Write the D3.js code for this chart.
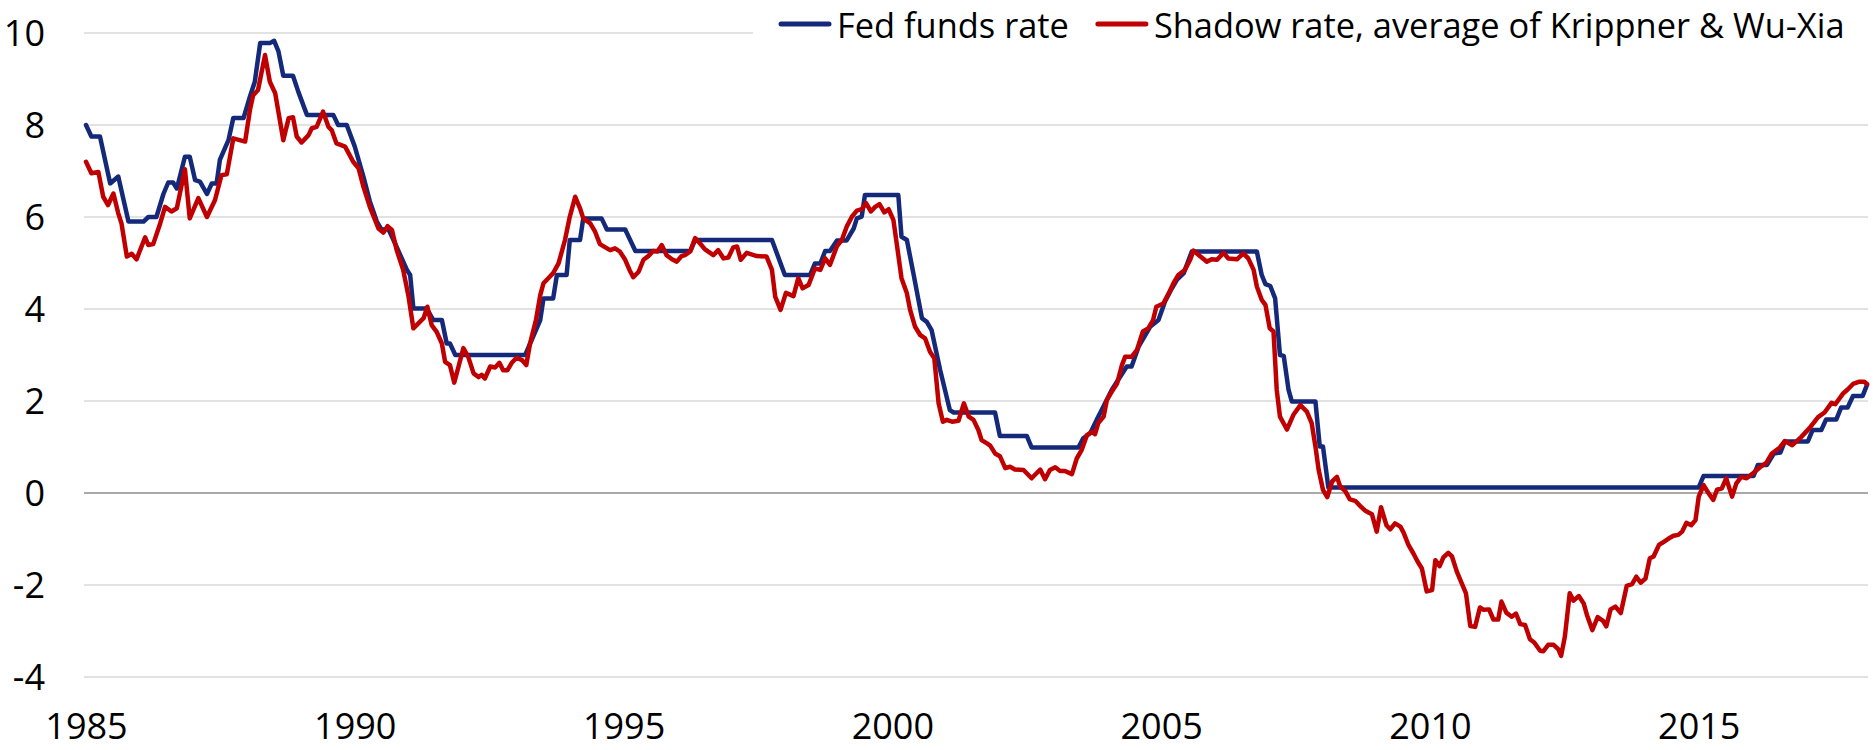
<!DOCTYPE html>
<html>
<head>
<meta charset="utf-8">
<script src="https://cdn.jsdelivr.net/npm/d3@7"></script>
<style>
  html, body { margin: 0; padding: 0; background: #fff; }
  svg { display: block; }
  text { font-family: "Open Sans", "Noto Sans", sans-serif; fill: #000; }
</style>
</head>
<body>
<svg id="chart" width="1873" height="750"></svg>
<script>
// ---- data (decimal years on the chart's own axis, percent) ----
const seriesNames = ["Fed funds rate", "Shadow rate, average of Krippner & Wu-Xia"];
const xTicks = [1985, 1990, 1995, 2000, 2005, 2010, 2015];
const yTicks = [-4, -2, 0, 2, 4, 6, 8, 10];

const fedFunds = [
[1985.00,8.00],[1985.10,7.75],[1985.26,7.75],[1985.45,6.73],[1985.60,6.88],[1985.79,5.90],
[1986.07,5.90],[1986.16,6.00],[1986.31,6.00],[1986.44,6.50],[1986.53,6.75],[1986.62,6.75],
[1986.69,6.62],[1986.84,7.31],[1986.93,7.31],[1987.03,6.80],[1987.12,6.77],[1987.25,6.50],
[1987.34,6.73],[1987.43,6.73],[1987.49,7.24],[1987.65,7.67],[1987.74,8.15],[1987.93,8.15],
[1988.05,8.62],[1988.14,8.94],[1988.24,9.78],[1988.42,9.78],[1988.50,9.83],[1988.58,9.60],
[1988.67,9.07],[1988.85,9.07],[1988.95,8.72],[1989.11,8.22],[1989.60,8.22],[1989.69,8.00],
[1989.85,8.00],[1990.00,7.53],[1990.16,6.88],[1990.28,6.34],[1990.41,5.90],[1990.50,5.72],
[1990.62,5.75],[1990.72,5.50],[1990.97,4.85],[1991.03,4.74],[1991.09,4.01],[1991.34,4.01],
[1991.46,3.76],[1991.62,3.76],[1991.71,3.25],[1991.77,3.25],[1991.87,3.00],[1993.17,3.00],
[1993.45,3.76],[1993.51,4.23],[1993.69,4.23],[1993.76,4.74],[1993.94,4.74],[1994.00,5.50],
[1994.19,5.50],[1994.25,5.97],[1994.59,5.97],[1994.69,5.73],[1995.03,5.73],[1995.22,5.26],
[1996.24,5.26],[1996.33,5.50],[1997.76,5.50],[1998.00,4.74],[1998.47,4.74],[1998.56,4.99],
[1998.66,4.99],[1998.75,5.26],[1998.84,5.26],[1998.97,5.49],[1999.15,5.49],[1999.28,5.75],
[1999.34,5.97],[1999.43,6.01],[1999.49,6.48],[2000.11,6.48],[2000.17,5.57],[2000.27,5.50],
[2000.39,4.78],[2000.55,3.80],[2000.64,3.72],[2000.73,3.54],[2000.89,2.67],[2001.07,1.80],
[2001.14,1.75],[2001.91,1.75],[2002.00,1.24],[2002.50,1.24],[2002.59,0.99],[2003.46,0.99],
[2003.55,1.19],[2003.68,1.30],[2003.80,1.59],[2003.87,1.75],[2004.08,2.24],[2004.36,2.75],
[2004.45,2.75],[2004.58,3.18],[2004.80,3.62],[2004.95,3.76],[2005.07,4.16],[2005.20,4.45],
[2005.29,4.63],[2005.42,4.78],[2005.57,5.25],[2006.78,5.25],[2006.87,4.74],[2006.94,4.54],
[2007.03,4.50],[2007.12,4.23],[2007.21,3.00],[2007.28,2.98],[2007.37,2.24],[2007.43,1.99],
[2007.87,1.99],[2007.95,1.01],[2008.01,1.01],[2008.11,0.12],[2015.00,0.12],[2015.09,0.37],
[2016.02,0.37],[2016.10,0.61],[2016.27,0.61],[2016.40,0.86],[2016.52,0.88],[2016.60,1.12],
[2017.03,1.12],[2017.12,1.37],[2017.28,1.37],[2017.37,1.60],[2017.56,1.60],[2017.65,1.86],
[2017.77,1.86],[2017.87,2.11],[2018.05,2.11],[2018.13,2.35]
];

const shadowRate = [
[1985.00,7.20],[1985.10,6.95],[1985.23,6.98],[1985.32,6.44],[1985.41,6.26],[1985.51,6.51],
[1985.60,6.08],[1985.66,5.86],[1985.76,5.14],[1985.85,5.20],[1985.94,5.08],[1986.10,5.56],
[1986.16,5.39],[1986.25,5.41],[1986.38,5.86],[1986.47,6.22],[1986.59,6.12],[1986.69,6.19],
[1986.84,7.04],[1986.93,5.97],[1987.09,6.41],[1987.25,6.00],[1987.40,6.37],[1987.52,6.91],
[1987.62,6.93],[1987.74,7.71],[1987.96,7.64],[1988.05,8.33],[1988.11,8.65],[1988.20,8.76],
[1988.33,9.52],[1988.42,8.94],[1988.52,8.69],[1988.67,7.67],[1988.77,8.15],[1988.85,8.17],
[1988.92,7.75],[1989.01,7.62],[1989.14,7.78],[1989.20,7.93],[1989.29,7.96],[1989.41,8.29],
[1989.51,7.96],[1989.57,7.89],[1989.66,7.60],[1989.82,7.53],[1989.97,7.20],[1990.07,7.06],
[1990.16,6.66],[1990.28,6.22],[1990.44,5.75],[1990.53,5.66],[1990.61,5.80],[1990.69,5.72],
[1990.78,5.28],[1990.90,4.85],[1991.00,4.27],[1991.09,3.58],[1991.21,3.72],[1991.28,3.80],
[1991.35,4.05],[1991.43,3.65],[1991.52,3.51],[1991.62,3.25],[1991.68,2.85],[1991.77,2.78],
[1991.85,2.40],[1991.93,2.75],[1992.02,3.15],[1992.11,2.96],[1992.21,2.60],[1992.30,2.52],
[1992.36,2.57],[1992.42,2.49],[1992.52,2.75],[1992.61,2.73],[1992.69,2.83],[1992.76,2.67],
[1992.84,2.67],[1992.92,2.83],[1993.01,2.94],[1993.11,2.89],[1993.19,2.78],[1993.26,3.25],
[1993.37,3.76],[1993.45,4.30],[1993.51,4.56],[1993.60,4.67],[1993.69,4.78],[1993.79,4.99],
[1993.91,5.50],[1994.00,6.01],[1994.10,6.44],[1994.19,6.19],[1994.25,5.97],[1994.38,5.86],
[1994.47,5.68],[1994.56,5.41],[1994.66,5.34],[1994.75,5.28],[1994.84,5.32],[1994.93,5.25],
[1995.03,5.07],[1995.11,4.85],[1995.18,4.69],[1995.28,4.81],[1995.37,5.07],[1995.46,5.15],
[1995.55,5.26],[1995.63,5.25],[1995.71,5.39],[1995.80,5.17],[1995.90,5.08],[1995.99,5.03],
[1996.08,5.15],[1996.14,5.17],[1996.24,5.25],[1996.33,5.54],[1996.42,5.43],[1996.51,5.30],
[1996.67,5.17],[1996.76,5.28],[1996.86,5.10],[1996.95,5.12],[1997.04,5.34],[1997.11,5.36],
[1997.18,5.07],[1997.29,5.22],[1997.48,5.15],[1997.66,5.14],[1997.76,4.85],[1997.82,4.27],
[1997.92,3.98],[1998.02,4.35],[1998.16,4.28],[1998.25,4.67],[1998.33,4.45],[1998.44,4.52],
[1998.56,4.88],[1998.66,4.85],[1998.75,5.10],[1998.84,4.96],[1998.97,5.37],[1999.06,5.50],
[1999.15,5.79],[1999.25,6.01],[1999.34,6.14],[1999.43,6.17],[1999.51,6.30],[1999.60,6.12],
[1999.68,6.22],[1999.76,6.28],[1999.85,6.10],[1999.93,6.17],[2000.02,5.93],[2000.08,5.43],
[2000.17,4.67],[2000.27,4.34],[2000.33,3.98],[2000.42,3.62],[2000.52,3.43],[2000.61,3.36],
[2000.70,3.07],[2000.78,2.93],[2000.86,1.95],[2000.94,1.55],[2001.01,1.59],[2001.11,1.55],
[2001.23,1.57],[2001.33,1.95],[2001.42,1.66],[2001.51,1.59],[2001.60,1.37],[2001.66,1.15],
[2001.76,1.08],[2001.82,1.03],[2001.91,0.86],[2002.00,0.80],[2002.10,0.54],[2002.19,0.57],
[2002.28,0.51],[2002.44,0.50],[2002.59,0.32],[2002.75,0.51],[2002.84,0.30],[2002.93,0.50],
[2003.03,0.56],[2003.12,0.48],[2003.21,0.48],[2003.34,0.41],[2003.43,0.75],[2003.52,0.93],
[2003.62,1.26],[2003.71,1.33],[2003.77,1.28],[2003.83,1.52],[2003.93,1.66],[2003.99,2.02],
[2004.08,2.20],[2004.18,2.38],[2004.27,2.78],[2004.33,2.96],[2004.45,2.96],[2004.55,3.11],
[2004.66,3.51],[2004.76,3.58],[2004.85,3.76],[2004.91,4.05],[2005.04,4.12],[2005.14,4.34],
[2005.23,4.56],[2005.32,4.74],[2005.44,4.85],[2005.54,5.07],[2005.60,5.27],[2005.73,5.14],
[2005.85,5.03],[2005.94,5.08],[2006.04,5.07],[2006.16,5.22],[2006.25,5.10],[2006.41,5.08],
[2006.53,5.21],[2006.62,5.10],[2006.72,4.85],[2006.78,4.49],[2006.87,4.20],[2006.94,4.09],
[2007.02,3.58],[2007.09,3.51],[2007.15,2.24],[2007.21,1.66],[2007.34,1.38],[2007.46,1.70],
[2007.59,1.91],[2007.71,1.77],[2007.80,1.52],[2007.87,1.01],[2007.93,0.50],[2008.01,0.07],
[2008.09,-0.09],[2008.18,0.25],[2008.27,0.35],[2008.33,0.14],[2008.42,0.05],[2008.51,-0.14],
[2008.61,-0.17],[2008.70,-0.28],[2008.79,-0.38],[2008.92,-0.46],[2009.01,-0.84],[2009.09,-0.31],
[2009.19,-0.70],[2009.26,-0.79],[2009.35,-0.66],[2009.45,-0.73],[2009.51,-0.86],[2009.60,-1.13],
[2009.69,-1.31],[2009.77,-1.49],[2009.85,-1.64],[2009.94,-2.14],[2010.04,-2.11],[2010.10,-1.46],
[2010.18,-1.59],[2010.25,-1.40],[2010.34,-1.30],[2010.41,-1.38],[2010.50,-1.71],[2010.59,-1.96],
[2010.67,-2.18],[2010.75,-2.89],[2010.84,-2.91],[2010.93,-2.49],[2011.00,-2.54],[2011.10,-2.53],
[2011.18,-2.75],[2011.27,-2.75],[2011.33,-2.36],[2011.42,-2.60],[2011.52,-2.69],[2011.60,-2.62],
[2011.68,-2.85],[2011.77,-2.87],[2011.86,-3.18],[2011.94,-3.25],[2012.05,-3.43],[2012.11,-3.44],
[2012.20,-3.30],[2012.30,-3.30],[2012.39,-3.40],[2012.44,-3.54],[2012.51,-3.12],[2012.60,-2.18],
[2012.67,-2.34],[2012.77,-2.24],[2012.86,-2.40],[2012.92,-2.65],[2013.02,-2.98],[2013.12,-2.70],
[2013.22,-2.78],[2013.28,-2.90],[2013.36,-2.53],[2013.45,-2.47],[2013.55,-2.61],[2013.61,-2.29],
[2013.66,-2.02],[2013.76,-1.98],[2013.84,-1.82],[2013.92,-1.95],[2014.01,-1.86],[2014.09,-1.42],
[2014.16,-1.38],[2014.26,-1.13],[2014.35,-1.06],[2014.44,-0.99],[2014.53,-0.93],[2014.62,-0.91],
[2014.69,-0.84],[2014.77,-0.65],[2014.86,-0.70],[2014.94,-0.59],[2015.00,-0.08],[2015.09,0.17],
[2015.18,0.00],[2015.27,-0.15],[2015.34,0.07],[2015.43,0.10],[2015.51,0.32],[2015.62,-0.08],
[2015.70,0.21],[2015.79,0.35],[2015.89,0.32],[2016.01,0.43],[2016.14,0.56],[2016.26,0.66],
[2016.36,0.86],[2016.51,0.99],[2016.60,1.13],[2016.74,1.04],[2016.90,1.21],[2017.06,1.41],
[2017.22,1.65],[2017.34,1.75],[2017.47,1.96],[2017.54,1.93],[2017.69,2.17],[2017.77,2.25],
[2017.87,2.37],[2017.99,2.42],[2018.08,2.42],[2018.13,2.37]
];

// ---- layout ----
const colors = ["#14297a", "#c00000"];
const svg = d3.select("#chart");
const W = 1873, H = 750;
const plotLeft = 84, plotRight = 1868;

const x = d3.scaleLinear().domain([1985, 2018.13]).range([86, 1867]);
const y = d3.scaleLinear().domain([-4, 10]).range([677, 33]);

// gridlines
svg.append("g").selectAll("line").data(yTicks).join("line")
  .attr("x1", plotLeft).attr("x2", plotRight)
  .attr("y1", d => y(d)).attr("y2", d => y(d))
  .attr("stroke", d => d === 0 ? "#8c8c8c" : "#d9d9d9")
  .attr("stroke-width", 1.5);

// y axis labels
const yAxis = d3.axisLeft(y).tickValues(yTicks).tickSize(0).tickPadding(0)
  .tickFormat(d => d3.format("d")(d).replace("−", "-"));
const gy = svg.append("g").attr("transform", "translate(45,0)").call(yAxis);
gy.select(".domain").remove();
gy.selectAll("text").attr("font-size", 36).attr("font-family", "'Open Sans', sans-serif")
  .attr("fill", "#000").attr("dy", "0.35em");

// x axis labels
const xAxis = d3.axisBottom(x).tickValues(xTicks).tickSize(0).tickPadding(0)
  .tickFormat(d3.format("d"));
const gx = svg.append("g").attr("transform", "translate(0,739)").call(xAxis);
gx.select(".domain").remove();
gx.selectAll("text").attr("font-size", 36).attr("font-family", "'Open Sans', sans-serif")
  .attr("fill", "#000").attr("dy", 0).attr("y", 0);

// lines
const line = d3.line().x(d => x(d[0])).y(d => y(d[1]));
[fedFunds, shadowRate].forEach((s, i) => {
  svg.append("path").datum(s)
    .attr("d", line)
    .attr("fill", "none")
    .attr("stroke", colors[i])
    .attr("stroke-width", 4.5)
    .attr("stroke-linejoin", "round")
    .attr("stroke-linecap", "round");
});

// legend
const lg = svg.append("g");
lg.append("rect").attr("x", 753).attr("y", 0).attr("width", W - 753).attr("height", 46).attr("fill", "#fff");
// size the legend font to match the reference text widths
const probe = lg.append("text").attr("font-size", 36).text(seriesNames[0]);
const w36 = probe.node().getComputedTextLength();
probe.remove();
const legendFont = 36 * 232 / w36;
let cx = 779;
seriesNames.forEach((name, i) => {
  lg.append("line").attr("x1", cx + 2).attr("x2", cx + 50).attr("y1", 24).attr("y2", 24)
    .attr("stroke", colors[i]).attr("stroke-width", 5).attr("stroke-linecap", "round");
  const t = lg.append("text").attr("x", cx + 58).attr("y", 37.5)
    .attr("font-size", legendFont).text(name);
  cx = cx + 58 + t.node().getComputedTextLength() + 27;
});
</script>
</body>
</html>
